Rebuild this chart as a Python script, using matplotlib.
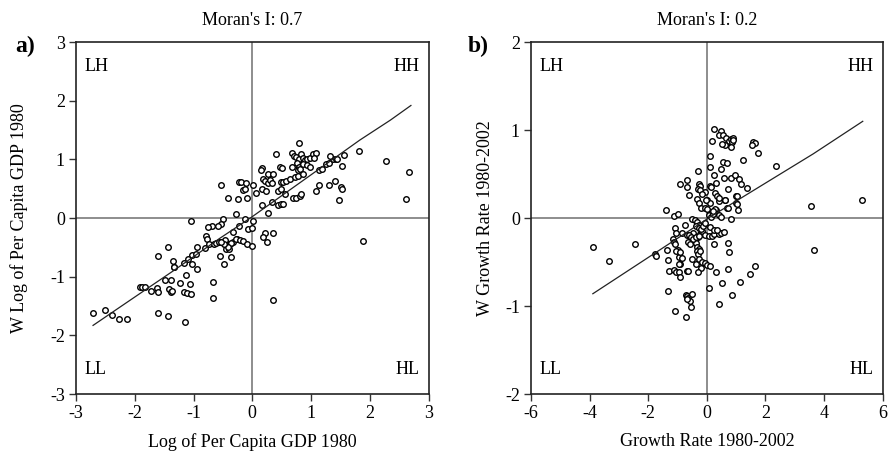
import matplotlib
matplotlib.use("Agg")
import matplotlib.pyplot as plt
import numpy as np

plt.rcParams['font.family'] = ['Liberation Serif', 'DejaVu Serif']

# ---------------- Panel a data ----------------
a_x = [-0.54, -0.41, -0.25, -0.22, -0.27, -1.04, -0.49, -0.54, -0.59, -0.68, -0.75, -0.33, -0.79, -0.77, -0.26,
       -1.44, -0.94, -0.81, -0.73, -0.66, -0.62, -0.57, -0.52, -0.47, -0.43, -0.38, -0.33, -0.46, -0.45, -0.39,
       -1.61, -1.35, -1.02, -0.96, -1.09, -1.16, -1.34, -1.02, -0.55, -0.37, -0.48, -0.94,
       -2.71, -2.50, -2.39, -2.26, -2.13, -1.61, -1.44, -1.15, -1.91, -1.87, -1.82, -1.73, -1.63, -1.61, -1.48,
       -1.38, -1.41, -1.39, -1.37, -1.33, -1.23, -1.13, -1.06, -1.16, -1.11, -1.04, -0.67, -0.67,
       0.79, 0.40, 0.67, 0.71, 0.75, 0.79, 0.83, 0.87, 0.90, 0.93, 0.98, 1.03, 1.08, 1.05,
       0.76, 0.79, 0.77, 0.81, 0.87, 0.93, 0.99, 0.67, 0.47, 0.51, 0.17, 0.14, 0.27, 0.35,
       0.18, 0.22, 0.27, 0.30, 0.33, 0.49, 0.53, 0.58, 0.64, 0.72, 0.77, 0.87,
       -0.19, -0.10, 0.02, -0.15, -0.13, 0.07, 0.17, 0.24, 0.44, 0.49, 0.55, -0.09,
       0.69, 0.75, 0.81, 0.83, 0.33, 0.44, 0.49, 0.52, 0.17, 0.26,
       1.08, 1.13, 1.31, 1.41, 1.51, 1.53, 1.48,
       1.13, 1.18, 1.25, 1.31, 1.37, 1.42, 1.32, 1.45, 1.56, 1.53,
       1.82, 2.28, 2.67, 2.61, 1.88,
       -0.13, 0.02, -0.23, -0.08, -0.01, 0.21, 0.19, 0.35, 0.25,
       -0.27, -0.21, -0.16, -0.09, 0.00, -0.37, -0.42, -0.48, -0.54, 0.36]
a_y = [0.57, 0.35, 0.32, 0.61, 0.07, -0.05, -0.02, -0.10, -0.13, -0.13, -0.16, -0.23, -0.30, -0.36, -0.36,
       -0.49, -0.49, -0.51, -0.44, -0.44, -0.42, -0.41, -0.40, -0.44, -0.44, -0.45, -0.41, -0.37, -0.52, -0.53,
       -0.65, -0.73, -0.63, -0.61, -0.70, -0.77, -0.83, -0.78, -0.65, -0.67, -0.78, -0.86,
       -1.62, -1.57, -1.65, -1.72, -1.72, -1.62, -1.67, -1.77, -1.17, -1.17, -1.18, -1.24, -1.20, -1.26, -1.05,
       -1.05, -1.21, -1.26, -1.24, -0.84, -1.11, -0.97, -1.13, -1.26, -1.28, -1.29, -1.09, -1.36,
       1.28, 1.09, 1.11, 1.06, 1.04, 1.01, 1.09, 1.03, 0.99, 1.01, 1.03, 1.09, 1.11, 1.03,
       0.94, 0.87, 0.82, 0.84, 0.92, 0.91, 0.87, 0.87, 0.87, 0.86, 0.86, 0.82, 0.76, 0.76,
       0.67, 0.64, 0.60, 0.65, 0.59, 0.61, 0.62, 0.64, 0.67, 0.70, 0.72, 0.75,
       0.61, 0.59, 0.57, 0.48, 0.50, 0.43, 0.49, 0.47, 0.47, 0.50, 0.41, 0.35,
       0.34, 0.35, 0.37, 0.41, 0.28, 0.22, 0.24, 0.24, 0.22, 0.09,
       0.47, 0.57, 0.56, 0.64, 0.53, 0.50, 0.30,
       0.82, 0.84, 0.93, 0.94, 1.00, 1.00, 1.06, 1.01, 1.07, 0.89,
       1.14, 0.97, 0.78, 0.32, -0.39,
       -0.01, -0.05, -0.14, -0.18, -0.17, -0.26, -0.32, -0.26, -0.41,
       -0.35, -0.37, -0.39, -0.44, -0.48, -0.43, -0.49, -0.44, -0.41, -1.40]
a_line_x = [-2.71, -1.33, -0.56, -0.02, 1.83, 2.35, 2.70]
a_line_y = [-1.83, -0.89, -0.35, 0.01, 1.33, 1.67, 1.92]

# ---------------- Panel b data ----------------
b_x = [-0.92, -1.40, -1.13, -0.97, -1.10, -1.06, -1.15, -1.13, -1.10, -3.90, -2.44, -3.33, -1.77, -1.72, -1.36, -1.31, -0.97,
       -1.04, -0.95, -0.85, -0.92, -1.29, -1.13, -1.04, -0.95, -0.92, -0.69, -0.65, -1.33, -0.72, -0.67, -0.63, -0.58,
       -0.51, -0.69, -0.54, -1.07, -0.72,
       -0.85, -0.67, -0.58, -0.47, -0.38, -0.31, -0.24, -0.17,
       -0.35, -0.28, -0.35, -0.31, -0.24,
       -0.51, -0.38, -0.26, -0.17, -0.19, -0.31, -0.06, 0.01, 0.10,
       -0.06, 0.06, 0.17, 0.26, 0.40, 0.49, 0.58,
       0.23, 0.73, 0.76, 0.31, 0.72, 0.51, 0.06, 0.42, 0.85, 1.13,
       3.55, 3.65, 5.31, -0.74,
       -0.51, -0.42, -0.33, -0.26, -0.38, -0.28, -0.19, -0.13, -0.06,
       -0.61, -0.54, -0.47, -0.63, -0.56, -0.38, -0.28,
       -0.90, -0.95, 1.47, 1.64,
       -0.01, 0.10, 0.40, 0.63, 1.01, 1.06, 0.69, 0.31,
       0.06, 0.15, 0.22, 0.40, 0.49, 0.81, 0.12, 0.24, 0.35,
       0.26, 0.47, 0.40, 0.54, 0.67, 0.74, 0.81, 0.88, 0.85, 0.90, 0.63, 0.51, 0.83, 0.18,
       1.58, 1.63, 1.54, 1.73, 1.22, 0.10, 0.56, 0.69, 2.35, -0.30, 0.10, 0.47, 0.26, 0.60, 0.83, 0.95, 1.10, 1.15, 1.38,
       -0.69, -0.69, -0.26, -0.22, -0.31, -0.24, 0.10, 0.15, 0.31, 0.72, -0.61,
       -0.06, -0.17, -0.33, -0.03, -0.28,
       0.28, 0.33, 0.40, 0.63, 0.99, 1.04, 1.02,
       -0.19, -0.08, -0.01, 0.28, 0.22, 0.72]
b_y = [0.39, 0.09, 0.02, 0.05, -0.11, -0.17, -0.24, -0.27, -0.29, -0.33, -0.30, -0.49, -0.41, -0.43, -0.36, -0.48, -0.36,
       -0.37, -0.44, -0.45, -0.52, -0.60, -0.59, -0.61, -0.61, -0.67, -0.60, -0.60, -0.83, -0.88, -0.89, -0.91, -0.94,
       -0.86, -0.92, -1.01, -1.06, -1.12,
       -0.17, -0.19, -0.27, -0.17, -0.28, -0.21, -0.18, -0.15,
       -0.33, -0.35, -0.37, -0.41, -0.37,
       -0.46, -0.52, -0.47, -0.50, -0.57, -0.61, -0.51, -0.53, -0.55,
       -0.19, -0.20, -0.20, -0.18, -0.18, -0.17, -0.16,
       -0.30, -0.28, -0.39, -0.61, -0.58, -0.74, -0.80, -0.98, -0.88, -0.73,
       0.14, -0.36, 0.21, -0.08,
       -0.01, -0.02, -0.05, -0.08, -0.09, -0.11, -0.12, -0.09, -0.06,
       -0.19, -0.21, -0.24, -0.27, -0.29, -0.22, -0.20,
       -0.38, -0.52, -0.64, -0.55,
       0.20, 0.17, 0.19, 0.20, 0.17, 0.09, 0.12, 0.09,
       0.03, 0.01, 0.05, 0.04, 0.01, -0.01, -0.10, -0.13, -0.14,
       1.01, 0.99, 0.95, 0.94, 0.91, 0.88, 0.90, 0.91, 0.86, 0.89, 0.83, 0.84, 0.81, 0.88,
       0.86, 0.85, 0.83, 0.74, 0.66, 0.70, 0.64, 0.63, 0.59, 0.53, 0.58, 0.56, 0.49, 0.46, 0.46, 0.49, 0.44, 0.39, 0.34,
       0.43, 0.35, 0.39, 0.36, 0.33, 0.32, 0.36, 0.35, 0.40, 0.33, 0.26,
       0.30, 0.27, 0.22, 0.20, 0.17,
       0.29, 0.25, 0.23, 0.21, 0.25, 0.25, 0.16,
       0.11, 0.12, 0.10, 0.10, 0.08, 0.12]
b_line_x = [-3.89, 0.10, 3.63, 5.32]
b_line_y = [-0.86, 0.01, 0.73, 1.10]

fig = plt.figure(figsize=(8.88, 4.63), dpi=100)
ax_a = fig.add_axes([0.0856, 0.149, 0.397, 0.760])
ax_b = fig.add_axes([0.598, 0.149, 0.396, 0.760])

FS = 13

def style(ax, xlim, ylim, xticks, yticks, xlabel, ylabel, title, ylpad):
    ax.set_xlim(*xlim)
    ax.set_ylim(*ylim)
    ax.axhline(0, color='#7a7a7a', lw=1.2, zorder=1)
    ax.axvline(0, color='#7a7a7a', lw=1.2, zorder=1)
    ax.set_xticks(xticks)
    ax.set_yticks(yticks)
    ax.set_xticklabels([str(t) for t in xticks], fontsize=FS)
    ax.set_yticklabels([str(t) for t in yticks], fontsize=FS)
    ax.tick_params(direction='out', length=5, width=1, pad=3, color='#333333')
    for s in ax.spines.values():
        s.set_linewidth(1.2)
        s.set_color('#222222')
    ax.set_xlabel(xlabel, fontsize=FS, labelpad=8)
    ax.set_ylabel(ylabel, fontsize=FS, labelpad=ylpad)
    ax.set_title(title, fontsize=FS, pad=12)
    kw = dict(transform=ax.transAxes, fontsize=FS)
    ax.text(0.025, 0.93, 'LH', ha='left', va='center', **kw)
    ax.text(0.975, 0.93, 'HH', ha='right', va='center', **kw)
    ax.text(0.025, 0.07, 'LL', ha='left', va='center', **kw)
    ax.text(0.975, 0.07, 'HL', ha='right', va='center', **kw)

style(ax_a, (-3, 3), (-3, 3), [-3, -2, -1, 0, 1, 2, 3], [-3, -2, -1, 0, 1, 2, 3],
      'Log of Per Capita GDP 1980', 'W Log of Per Capita GDP 1980', "Moran's I: 0.7", 16)
style(ax_b, (-6, 6), (-2, 2), [-6, -4, -2, 0, 2, 4, 6], [-2, -1, 0, 1, 2],
      'Growth Rate 1980-2002', 'W Growth Rate 1980-2002', "Moran's I: 0.2", 8)

for ax, xs, ys, lx, ly in [(ax_a, a_x, a_y, a_line_x, a_line_y), (ax_b, b_x, b_y, b_line_x, b_line_y)]:
    ax.scatter(xs, ys, s=16, facecolors='white', edgecolors='black', linewidths=1.0, zorder=3)
    ax.plot(lx, ly, color='#222222', lw=0.9, zorder=4)

fig.text(0.017, 0.90, 'a)', fontsize=17, fontweight='bold', ha='left', va='center')
fig.text(0.527, 0.90, 'b)', fontsize=17, fontweight='bold', ha='left', va='center')

fig.savefig('out.png', dpi=100)
